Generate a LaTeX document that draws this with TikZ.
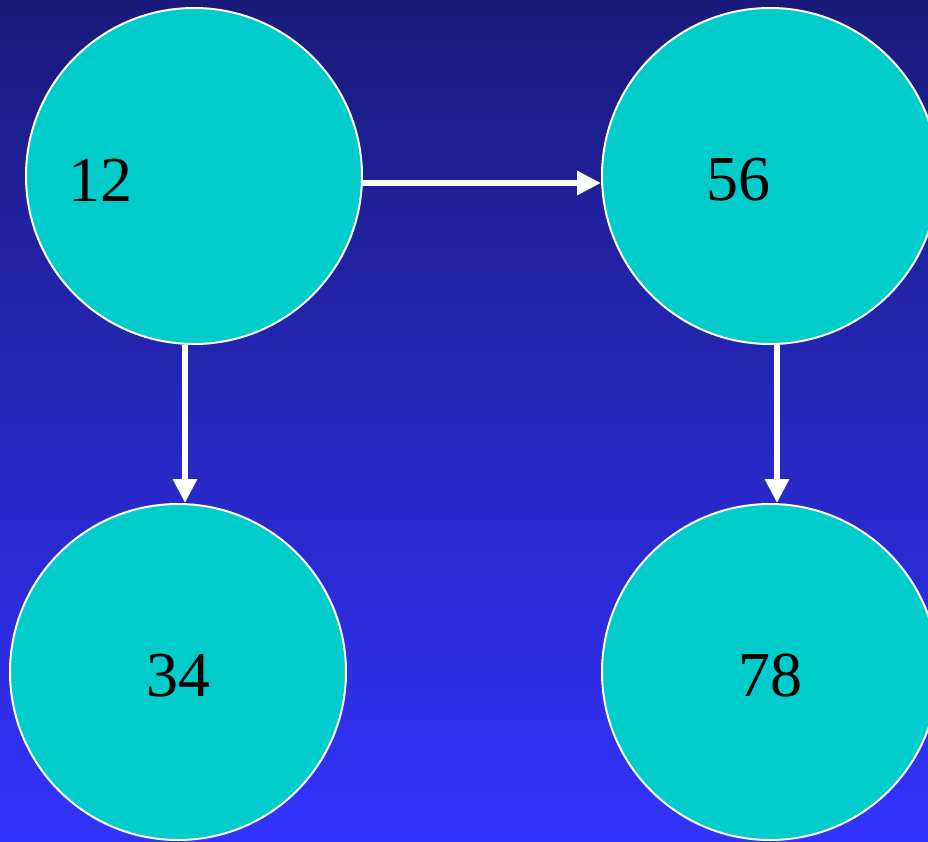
\documentclass[tikz,border=0pt]{standalone}
\usepackage{fontspec}
\setmainfont{Liberation Serif}
\usetikzlibrary{arrows.meta}
\definecolor{bgtop}{HTML}{1A1A7A}
\definecolor{bgbot}{HTML}{3333FF}
\definecolor{nodefill}{HTML}{00CCCC}
\begin{document}
\begin{tikzpicture}[x=1pt,y=-1pt,
  bubble/.style={circle,draw=white,line width=2pt,fill=nodefill,minimum size=336pt,inner sep=0pt},
  num/.style={inner sep=0pt,font=\fontsize{64}{64}\selectfont,text=black},
  link/.style={draw=white,line width=6.5pt,-{Triangle[length=24pt,width=23pt]}}]
  % background
  \shade[top color=bgtop,bottom color=bgbot] (0,0) rectangle (928,841);
  \useasboundingbox (0,0) rectangle (928,841);
  % circles
  \node[bubble] (c12) at (194,176) {};
  \node[bubble] (c56) at (770,176) {};
  \node[bubble] (c34) at (178,672) {};
  \node[bubble] (c78) at (770,672) {};
  % numbers
  \node[num] (t12) at (100,180) {12};
  \node[num] (t56) at (738,180) {56};
  \node[num] (t34) at (178,676) {34};
  \node[num] (t78) at (770,676) {78};
  % links
  \draw[link] ([yshift=-7pt]c12.east) -- ([yshift=-7pt]c56.west);
  \draw[link] ([xshift=-9pt]c12.south) -- ([xshift=7pt]c34.north);
  \draw[link] ([xshift=7pt]c56.south) -- ([xshift=7pt]c78.north);
\end{tikzpicture}
\end{document}
